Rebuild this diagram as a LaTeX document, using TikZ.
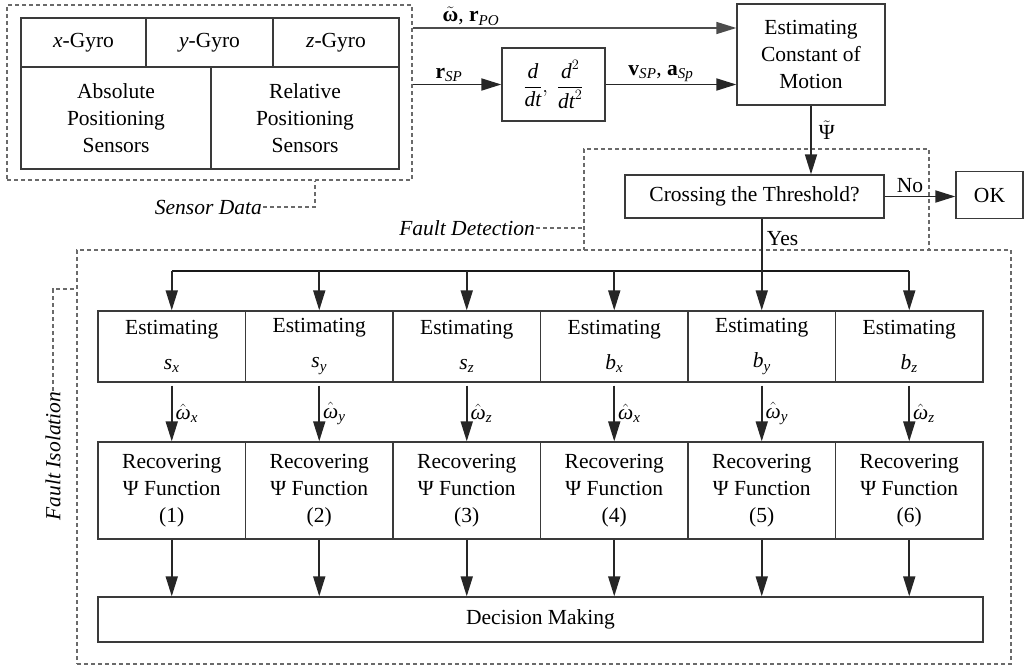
\documentclass[tikz,border=0pt]{standalone}
\usepackage{amsmath}
\usepackage{fontspec}
\setmainfont{Liberation Serif}
\usetikzlibrary{arrows.meta}
\definecolor{boxc}{HTML}{3A3A3A}
\definecolor{dashc}{HTML}{6A6A6A}
\newcommand\mi[1]{\textit{#1}}
\newcommand\mb[1]{\textbf{#1}}
\tikzset{
  txt/.style={font=\fontsize{21.5}{27}\selectfont, text=black},
  box/.style={txt, draw=boxc, line width=1.3pt, inner sep=0pt, align=center},
  grp/.style={draw=dashc, line width=1.1pt, dash pattern=on 4pt off 3pt, inner sep=0pt},
  dsh/.style={draw=dashc, line width=1.1pt, dash pattern=on 4pt off 3pt},
  arr/.style={draw=black!85, line width=1.8pt, -{Triangle[length=20pt,width=12pt]}},
  bus/.style={draw=black!90, line width=2.4pt},
  lbl/.style={txt, inner sep=1pt},
}
\begin{document}
\begin{tikzpicture}[x=1pt,y=-1pt]
\useasboundingbox (0,0) rectangle (1026,669);
% sensor group
\node[grp, minimum width=405pt, minimum height=175pt] (sensgrp) at (209.5,92.5) {};
\node[box, minimum width=125pt, minimum height=49pt] (gx) at (83.5,42.5) {\mi{x}-Gyro};
\node[box, minimum width=127pt, minimum height=49pt] (gy) at (209.5,42.5) {\mi{y}-Gyro};
\node[box, minimum width=126pt, minimum height=49pt] (gz) at (336,42.5) {\mi{z}-Gyro};
\node[box, minimum width=190pt, minimum height=102pt] (abs) at (116,118) {Absolute\\Positioning\\Sensors};
\node[box, minimum width=188pt, minimum height=102pt] (rel) at (305,118) {Relative\\Positioning\\Sensors};
\node[lbl, anchor=east, font=\fontsize{21.5}{27}\selectfont\itshape] (sdl) at (263,207) {Sensor Data};
\draw[dsh] (sdl.east) -| ([xshift=105.5pt]sensgrp.south);
% derivative and estimation
\node[box, minimum width=103pt, minimum height=73pt] (dd) at (553.5,84.5) {$\dfrac{\mi{d}}{\mi{dt}},\ \dfrac{\mi{d}^{2}}{\mi{dt}^{2}}$};
\node[box, minimum width=148pt, minimum height=101pt] (est) at (811,54.5) {Estimating\\Constant of\\Motion};
\draw[arr, draw=black!70, line width=1.4pt] (sensgrp.east |- 0,28) -- (est.west |- 0,28)
  node[lbl, pos=0.18, above=1pt] (wl) {$\tilde{\mb{ω}}$, $\mb{r}_{\mi{PO}}$};
\draw[arr] (sensgrp.east |- dd.west) -- (dd.west)
  node[lbl, midway, above=1pt, xshift=-8pt] (rl) {$\mb{r}_{\mi{SP}}$};
\draw[arr] (dd.east) -- (est.west |- dd.east)
  node[lbl, midway, above=1pt, xshift=-10pt] (vl) {$\mb{v}_{\mi{SP}}$, $\mb{a}_{\mi{Sp}}$};
% fault detection
\node[grp, minimum width=345pt, minimum height=101pt] (fdgrp) at (756.5,199.5) {};
\node[box, minimum width=259pt, minimum height=43pt] (cross) at (754.5,196.5) {Crossing the Threshold?};
\node[box, minimum width=67pt, minimum height=47pt] (ok) at (989.5,195) {OK};
\draw[arr] (est.south) -- (est.south |- cross.north)
  node[lbl, pos=0.36, right=6pt] (pl) {$\tilde{\text{Ψ}}$};
\draw[arr] (cross.east) -- (ok.west |- cross.east)
  node[lbl, pos=0.36, above=2pt] (nol) {No};
\node[lbl, anchor=east, font=\fontsize{21.5}{27}\selectfont\itshape] (fdl) at (536,228) {Fault Detection};
\draw[dsh] (fdl.east) -- (fdl.east -| fdgrp.west);
% fault isolation
\node[grp, minimum width=934pt, minimum height=414pt] (figrp) at (544,457) {};
\node[lbl, rotate=90, font=\fontsize{21.5}{27}\selectfont\itshape] (fil) at (53,456) {Fault Isolation};
\draw[dsh] (fil.east) |- (figrp.west |- 0,289);
\coordinate (busy) at (0,271);
\foreach \i/\v/\w in {1/s/x,2/s/y,3/s/z,4/b/x,5/b/y,6/b/z}{
  \node[box, minimum width=147.5pt, minimum height=71pt] (e\i) at ({98+147.5*(\i-0.5)},346.5) {Estimating\\[8pt]$\mi{\v}_{\mi{\w}}$};
  \node[box, minimum width=147.5pt, minimum height=97pt] (r\i) at ({98+147.5*(\i-0.5)},490.5) {Recovering\\Ψ Function\\(\i)};
  \draw[arr] ([yshift=-3pt]e\i.south) -- (r\i.north)
    node[lbl, midway, right=2pt] {$\hat{\mi{ω}}_{\mi{\w}}$};
}
\node[box, minimum width=885pt, minimum height=45pt] (dm) at (540.5,619.5) {Decision Making};
\draw[bus] (e1.north |- busy) -- (e6.north |- busy);
\foreach \i in {1,2,3,4,6}{
  \draw[arr] (e\i.north |- busy) -- (e\i.north);
}
\draw[arr] (cross.south -| e5.north) -- (e5.north);
\node[lbl, anchor=west] (yl) at ([xshift=4pt,yshift=-20pt]cross.south -| e5.north) {Yes};
\foreach \i in {1,...,6}{
  \draw[arr] (r\i.south) -- (r\i.south |- dm.north);
}
\end{tikzpicture}
\end{document}
